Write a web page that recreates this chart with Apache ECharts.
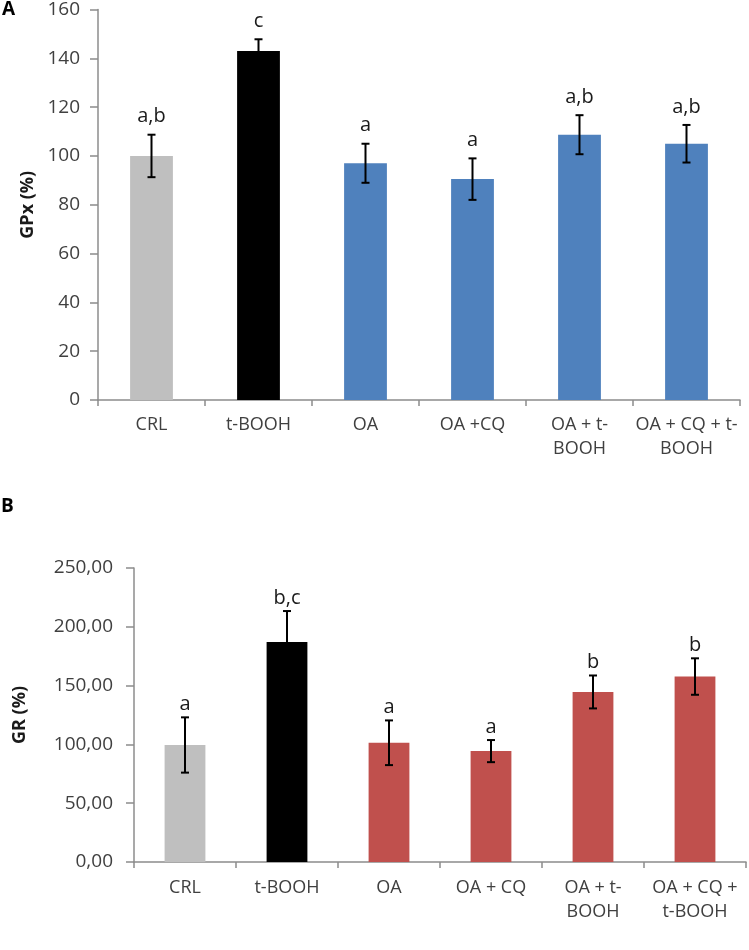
<!DOCTYPE html>
<html>
<head>
<meta charset="UTF-8">
<title></title>
<script src="https://cdn.jsdelivr.net/npm/echarts@6/dist/echarts.min.js"></script>
<style>
  html, body { margin: 0; padding: 0; background: #fff; }
</style>
</head>
<body>
<div id="box" style="width: 749px;height: 950px;"></div>
<script type="text/javascript">
// panel A - GPx
const categoriesA = ['CRL', 't-BOOH', 'OA', 'OA +CQ', 'OA + t-\nBOOH', 'OA + CQ + t-\nBOOH'];
const gpxMean = [100, 143, 97, 90.5, 108.7, 105];
const gpxErr = [8.7, 4.8, 8, 8.5, 8, 7.7];
const gpxLetters = ['a,b', 'c', 'a', 'a', 'a,b', 'a,b'];
const gpxTicks = { min: 0, max: 160, interval: 20 };

// panel B - GR
const categoriesB = ['CRL', 't-BOOH', 'OA', 'OA + CQ', 'OA + t-\nBOOH', 'OA + CQ +\nt-BOOH'];
const grMean = [99.5, 187, 101.4, 94.3, 144.6, 157.7];
const grErr = [23.5, 26.4, 19, 9.4, 14, 15.5];
const grLetters = ['a', 'b,c', 'a', 'a', 'b', 'b'];
const grTicks = { min: 0, max: 250, interval: 50 };

const colorsA = ['#bfbfbf', '#000000', '#4f81bd', '#4f81bd', '#4f81bd', '#4f81bd'];
const colorsB = ['#bfbfbf', '#000000', '#c0504d', '#c0504d', '#c0504d', '#c0504d'];

const FONT = '"Open Sans", "Liberation Sans", sans-serif';
const axisGray = '#8c8c8c';
const textGray = '#404040';

function barData(vals, colors) {
    return vals.map((v, i) => ({ value: v, itemStyle: { color: colors[i] } }));
}

// error bar + significance letter above it
function errorSeries(idx, mean, err, letters, gap) {
    return {
        type: 'custom',
        xAxisIndex: idx,
        yAxisIndex: idx,
        z: 5,
        data: mean.map((m, i) => [i, m, err[i]]),
        renderItem: function (params, api) {
            const x = api.value(0), m = api.value(1), e = api.value(2);
            const hi = api.coord([x, m + e]);
            const lo = api.coord([x, m - e]);
            const hw = 4;
            const st = { stroke: '#000', lineWidth: 2 };
            return {
                type: 'group',
                children: [
                    { type: 'line', shape: { x1: hi[0], y1: hi[1], x2: lo[0], y2: lo[1] }, style: st },
                    { type: 'line', shape: { x1: hi[0] - hw, y1: hi[1], x2: hi[0] + hw, y2: hi[1] }, style: st },
                    { type: 'line', shape: { x1: lo[0] - hw, y1: lo[1], x2: lo[0] + hw, y2: lo[1] }, style: st },
                    {
                        type: 'text',
                        style: {
                            text: letters[params.dataIndex],
                            x: hi[0],
                            y: hi[1] - gap,
                            align: 'center',
                            verticalAlign: 'bottom',
                            font: '20px ' + FONT,
                            fill: '#1a1a1a'
                        }
                    }
                ]
            };
        }
    };
}

function xAxis(idx, cats, margin) {
    return {
        type: 'category',
        gridIndex: idx,
        data: cats,
        axisLine: { lineStyle: { color: axisGray, width: 1.5 } },
        axisTick: { show: true, length: 6, lineStyle: { color: axisGray, width: 1.5 } },
        axisLabel: { interval: 0, color: textGray, fontFamily: FONT, fontSize: 18, margin: margin, lineHeight: 24 }
    };
}

function yAxis(idx, ticks, name, nameGap, margin, fmt) {
    return {
        type: 'value',
        gridIndex: idx,
        min: ticks.min,
        max: ticks.max,
        interval: ticks.interval,
        name: name,
        nameLocation: 'middle',
        nameGap: nameGap,
        nameTextStyle: { color: '#1a1a1a', fontFamily: FONT, fontSize: 18, fontWeight: 'bold' },
        splitLine: { show: false },
        axisLine: { show: true, lineStyle: { color: axisGray, width: 1.5 } },
        axisTick: { show: true, length: 8, lineStyle: { color: axisGray, width: 1.5 } },
        axisLabel: { color: textGray, fontFamily: FONT, fontSize: 19, margin: margin, formatter: fmt }
    };
}

const option = {
    animation: false,
    backgroundColor: '#ffffff',
    title: [
        { text: 'A', left: 2, top: 0, padding: 0, textStyle: { fontFamily: FONT, fontSize: 19, fontWeight: 'bold', color: '#000' } },
        { text: 'B', left: 1, top: 497, padding: 0, textStyle: { fontFamily: FONT, fontSize: 19, fontWeight: 'bold', color: '#000' } }
    ],
    grid: [
        { left: 98, top: 8, width: 642, height: 392 },
        { left: 134, top: 568, width: 612, height: 294 }
    ],
    xAxis: [xAxis(0, categoriesA, 13), xAxis(1, categoriesB, 14)],
    yAxis: [
        yAxis(0, gpxTicks, 'GPx (%)', 59, 18, null),
        yAxis(1, grTicks, 'GR (%)', 105, 21, v => v.toFixed(2).replace('.', ','))
    ],
    series: [
        { type: 'bar', xAxisIndex: 0, yAxisIndex: 0, barWidth: '40%', data: barData(gpxMean, colorsA) },
        errorSeries(0, gpxMean, gpxErr, gpxLetters, 8),
        { type: 'bar', xAxisIndex: 1, yAxisIndex: 1, barWidth: '40%', data: barData(grMean, colorsB) },
        errorSeries(1, grMean, grErr, grLetters, 3)
    ]
};

const myChart = echarts.init(document.getElementById('box'));
myChart.setOption(option);
</script>
</body>
</html>
